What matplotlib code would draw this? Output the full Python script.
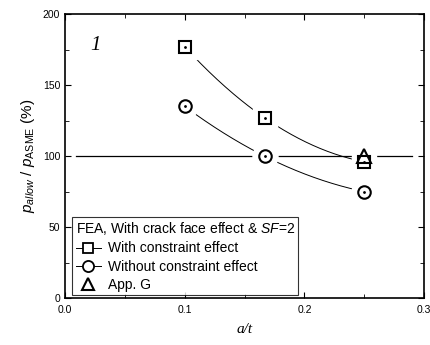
import numpy as np
import matplotlib
matplotlib.use("Agg")
import matplotlib.pyplot as plt
from matplotlib.lines import Line2D

plt.rcParams['font.family'] = ['Liberation Sans', 'DejaVu Sans']
plt.rcParams['mathtext.fontset'] = 'custom'
plt.rcParams['mathtext.rm'] = 'Liberation Sans'
plt.rcParams['mathtext.sf'] = 'Liberation Sans'
plt.rcParams['mathtext.it'] = 'Liberation Sans:italic'

# a/t values and allowable pressure ratios (%)
a_t = [0.1, 1 / 6, 0.25]
with_constraint = [177, 127, 96]
without_constraint = [135, 100, 75]
app_g_x = [0.25]
app_g_y = [100]
reference_level = 100
x_ticks = [0.0, 0.1, 0.2, 0.3]
x_tick_labels = ['0.0', '0.1', '0.2', '0.3']
y_ticks = [0, 50, 100, 150, 200]

fig = plt.figure(figsize=(4.31, 3.45), dpi=100)
ax = fig.add_axes([0.151, 0.136, 0.833, 0.823])

def smooth(xs, ys):
    coef = np.polyfit(xs, ys, 2)
    xx = np.linspace(min(xs), max(xs), 200)
    return xx, np.polyval(coef, xx)

# reference line at 100 %
ax.plot([0.009, 0.29], [reference_level] * 2, color='black', lw=0.9, zorder=1)

for ys in (with_constraint, without_constraint):
    xx, yy = smooth(a_t, ys)
    ax.plot(xx, yy, color='black', lw=0.7, zorder=1)

# white halos leave small gaps between the curves and the symbols
ax.plot(a_t, with_constraint, 's', ms=17, color='white', mec='white', zorder=2)
ax.plot(a_t, without_constraint, 'o', ms=18, color='white', mec='white', zorder=2)
ax.plot(app_g_x, app_g_y, '^', ms=20, color='white', mec='white', zorder=2)

ax.plot(a_t, with_constraint, 's', ms=8, mfc='white', mec='black', mew=1.5, zorder=3)
ax.plot(a_t, with_constraint, '.', ms=2, color='black', zorder=4)
ax.plot(a_t, without_constraint, 'o', ms=9, mfc='white', mec='black', mew=1.5, zorder=3)
ax.plot(a_t, without_constraint, '.', ms=2, color='black', zorder=4)
ax.plot(app_g_x, app_g_y, '^', ms=10, mfc='none', mec='black', mew=1.5, zorder=5)

ax.set_xlim(0, 0.3)
ax.set_ylim(0, 200)
ax.set_xticks(x_ticks)
ax.set_xticklabels(x_tick_labels)
ax.set_xticks([0.05, 0.15, 0.25], minor=True)
ax.set_yticks(y_ticks)
ax.set_yticks([25, 75, 125, 175], minor=True)
ax.tick_params(which='both', direction='in', top=True, right=True, labelsize=7.5)
ax.tick_params(axis='x', which='major', pad=5)
ax.tick_params(which='major', length=4)
ax.tick_params(which='minor', length=3)
for s in ax.spines.values():
    s.set_linewidth(1.2)

ax.set_xlabel('a/t', family='Liberation Serif', style='italic', fontsize=11, labelpad=6)
ax.set_ylabel(r'$\mathit{p}_{\mathit{allow}}$ / $\mathit{p}_{\mathrm{ASME}}$ (%)',
              fontsize=11, labelpad=4)

ax.text(0.021, 178, '1', family='Liberation Serif', style='italic', fontsize=15,
        va='center', ha='left')

handles = [
    Line2D([], [], color='black', lw=0.7, marker='s', ms=7, mfc='white', mec='black', mew=1.3),
    Line2D([], [], color='black', lw=0.7, marker='o', ms=8, mfc='white', mec='black', mew=1.3),
    Line2D([], [], color='none', marker='^', ms=9, mfc='none', mec='black', mew=1.5),
]
leg = ax.legend(handles, ['With constraint effect', 'Without constraint effect', 'App. G'],
                title=r'FEA, With crack face effect & $\mathit{SF}$=2',
                loc='lower left', bbox_to_anchor=(0.012, 0.0), fontsize=10,
                title_fontsize=10, handlelength=1.8, handletextpad=0.5,
                labelspacing=0.3, borderpad=0.25, borderaxespad=0.2,
                frameon=True, fancybox=False, edgecolor='black')
leg.get_frame().set_linewidth(0.8)
leg._legend_box.align = 'left'

fig.savefig('out.png', dpi=100)
